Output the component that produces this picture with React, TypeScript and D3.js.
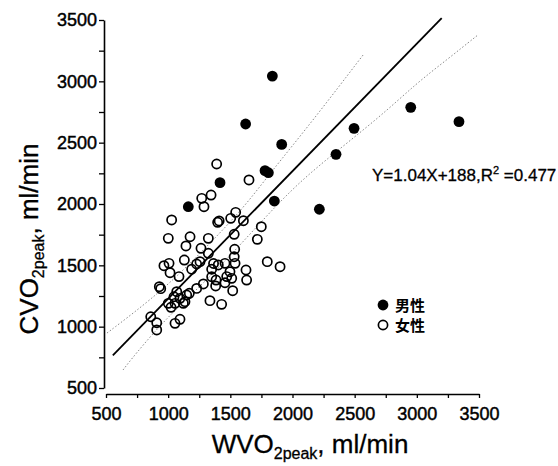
import React, { useEffect, useRef } from 'react';
import * as d3 from 'd3';

// 男性 (filled)
const maleX = [1838, 1623, 1913, 2951, 3339, 2495, 2350, 1779, 1806, 1417, 1854, 2216, 1162];
const maleY = [3043, 2652, 2486, 2788, 2671, 2617, 2405, 2272, 2255, 2174, 2024, 1957, 1978];

// 女性 (open)
const femaleX = [
  1390, 1650, 1270, 1345, 1288, 1543, 1503, 1605, 1398, 1410, 1028, 1749, 1001, 1176, 1323, 1717,
  1531, 1143, 1264, 1323, 1535, 1531, 1130, 966, 1007, 1229, 1189, 1256, 1350, 1403, 1457, 1538,
  1797, 1900, 1626, 1015, 1087, 1497, 1471, 1511, 1631, 1385, 1457, 1382, 1283, 929, 940, 1069,
  1229, 1170, 1519, 1047, 1135, 1055, 1023, 1336, 1430, 860, 908, 908, 1055, 1095, 1149, 1365,
  1350, 1095, 1001, 1122,
];
const femaleY = [
  2326, 2196, 2046, 2073, 1978, 1932, 1883, 1864, 1851, 1862, 1870, 1815, 1720, 1733, 1720, 1712,
  1753, 1658, 1639, 1598, 1631, 1570, 1543, 1497, 1516, 1511, 1468, 1530, 1468, 1503, 1516, 1516,
  1530, 1489, 1462, 1440, 1408, 1448, 1408, 1394, 1380, 1380, 1358, 1332, 1348, 1326, 1310, 1285,
  1312, 1272, 1293, 1244, 1204, 1190, 1158, 1212, 1182, 1081, 1032, 973, 1027, 1060, 1258, 1515,
  1407, 1231, 1190, 1190,
];

// regression Y = 1.04X + 188
const regSlope = 1.04;
const regIntercept = 188;
const regRange = [555, 3200];

// 95% band
const upperBandX = [508, 719, 1000, 1300, 1600, 1819, 2164, 2568];
const upperBandY = [948, 1109, 1340, 1640, 1960, 2250, 2680, 3215];
const lowerBandX = [637, 717, 1000, 1400, 1923, 2244, 2703, 2997, 3239, 3490];
const lowerBandY = [647, 753, 1090, 1460, 2057, 2342, 2709, 2984, 3174, 3377];

const xTicks = [500, 750, 1000, 1250, 1500, 1750, 2000, 2250, 2500, 2750, 3000, 3250, 3500];
const yTicks = [500, 750, 1000, 1250, 1500, 1750, 2000, 2250, 2500, 2750, 3000, 3250, 3500];
const legendLabels = ['男性', '女性'];

const W = 558;
const H = 466;
const font = '"Liberation Sans", Arial, sans-serif';

export default function App() {
  const svgRef = useRef<SVGSVGElement>(null);

  useEffect(() => {
    const svg = d3.select(svgRef.current);
    svg.selectAll('*').remove();

    const x = d3.scaleLinear().domain([500, 3500]).range([106, 479]);
    const y = d3.scaleLinear().domain([500, 3500]).range([388, 20]);

    // confidence bands
    const band = d3.line<[number, number]>()
      .x(d => x(d[0]))
      .y(d => y(d[1]))
      .curve(d3.curveBasis);

    [[upperBandX, upperBandY], [lowerBandX, lowerBandY]].forEach(([bx, by]) => {
      svg.append('path')
        .datum(d3.zip(bx, by) as [number, number][])
        .attr('d', band)
        .attr('fill', 'none')
        .attr('stroke', '#888')
        .attr('stroke-width', 1)
        .attr('stroke-dasharray', '1.5,2');
    });

    // regression line
    svg.append('line')
      .attr('x1', x(regRange[0]))
      .attr('y1', y(regSlope * regRange[0] + regIntercept))
      .attr('x2', x(regRange[1]))
      .attr('y2', y(regSlope * regRange[1] + regIntercept))
      .attr('stroke', '#000')
      .attr('stroke-width', 1.8);

    // points
    svg.append('g')
      .selectAll('circle')
      .data(d3.zip(femaleX, femaleY))
      .enter()
      .append('circle')
      .attr('cx', d => x(d[0]))
      .attr('cy', d => y(d[1]))
      .attr('r', 4.6)
      .attr('fill', 'none')
      .attr('stroke', '#000')
      .attr('stroke-width', 1.7);

    svg.append('g')
      .selectAll('circle')
      .data(d3.zip(maleX, maleY))
      .enter()
      .append('circle')
      .attr('cx', d => x(d[0]))
      .attr('cy', d => y(d[1]))
      .attr('r', 5.4)
      .attr('fill', '#000');

    // axes
    const yAxis = svg.append('g')
      .attr('transform', 'translate(104,0)')
      .call(d3.axisLeft(y).tickValues(yTicks).tickSize(5).tickSizeOuter(0).tickPadding(2)
        .tickFormat(d => (+d % 500 === 0 ? String(d) : '')));

    const xAxis = svg.append('g')
      .attr('transform', 'translate(0,394)')
      .call(d3.axisBottom(x).tickValues(xTicks).tickSize(4).tickSizeOuter(0).tickPadding(9)
        .tickFormat(d => (+d % 500 === 0 ? String(d) : '')));

    [yAxis, xAxis].forEach(g => {
      g.attr('font-family', font).attr('font-size', 18);
      g.select('.domain').attr('stroke-width', 1.6);
      g.selectAll('.tick line').attr('stroke-width', 1.3);
      g.selectAll('.tick text').attr('fill', '#000').attr('stroke', '#000').attr('stroke-width', 0.45);
    });

    // axis titles
    const xt = svg.append('text')
      .attr('x', 310)
      .attr('y', 453)
      .attr('text-anchor', 'middle')
      .attr('font-family', font)
      .attr('font-size', 26)
      .attr('stroke', '#000')
      .attr('stroke-width', 0.3);
    xt.append('tspan').text('WVO');
    xt.append('tspan').attr('font-size', 16).attr('dy', 6).text('2peak');
    xt.append('tspan').attr('dy', -6).text(', ml/min');

    const yt = svg.append('text')
      .attr('transform', 'translate(38,239) rotate(-90)')
      .attr('text-anchor', 'middle')
      .attr('font-family', font)
      .attr('font-size', 26)
      .attr('stroke', '#000')
      .attr('stroke-width', 0.3);
    yt.append('tspan').text('CVO');
    yt.append('tspan').attr('font-size', 16).attr('dy', 6).text('2peak');
    yt.append('tspan').attr('dy', -6).text(', ml/min');

    // equation
    const eq = svg.append('text')
      .attr('x', 372)
      .attr('y', 181)
      .attr('font-family', font)
      .attr('font-size', 17)
      .attr('stroke', '#000')
      .attr('stroke-width', 0.3);
    eq.append('tspan').text('Y=1.04X+188,R');
    eq.append('tspan').attr('font-size', 11).attr('dy', -7).text('2');
    eq.append('tspan').attr('dy', 7).text(' =0.477');

    // legend
    const leg = svg.append('g').attr('transform', 'translate(383,305)');
    legendLabels.forEach((lab, i) => {
      const row = leg.append('g').attr('transform', `translate(0,${i * 20})`);
      row.append('circle')
        .attr('r', i === 0 ? 5.4 : 4.6)
        .attr('fill', i === 0 ? '#000' : 'none')
        .attr('stroke', '#000')
        .attr('stroke-width', i === 0 ? 0 : 1.7);
      row.append('text')
        .attr('x', 12)
        .attr('y', 5.5)
        .attr('font-family', '"Noto Sans CJK SC", sans-serif')
        .attr('font-weight', 'bold')
        .attr('font-size', 15)
        .text(lab);
    });
  }, []);

  return (
    <svg
      ref={svgRef}
      width={W}
      height={H}
      style={{ position: 'absolute', left: 0, top: 0, background: '#fff' }}
    />
  );
}
